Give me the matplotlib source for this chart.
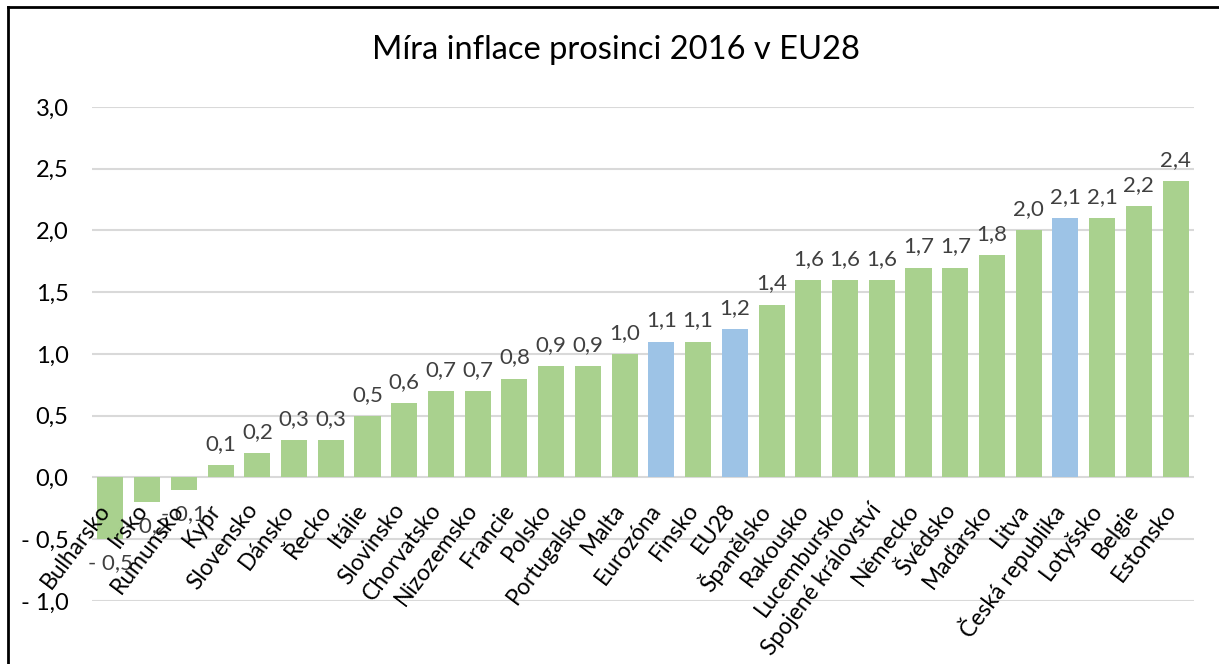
import matplotlib
matplotlib.use("Agg")
import matplotlib.pyplot as plt
from matplotlib.lines import Line2D

plt.rcParams['font.family'] = ['Lato', 'DejaVu Sans']

# data
countries = ['Bulharsko', 'Irsko', 'Rumunsko', 'Kypr', 'Slovensko', 'Dánsko', 'Řecko',
             'Itálie', 'Slovinsko', 'Chorvatsko', 'Nizozemsko', 'Francie', 'Polsko',
             'Portugalsko', 'Malta', 'Eurozóna', 'Finsko', 'EU28', 'Španělsko',
             'Rakousko', 'Lucembursko', 'Spojené království', 'Německo', 'Švédsko',
             'Maďarsko', 'Litva', 'Česká republika', 'Lotyšsko', 'Belgie', 'Estonsko']
inflation = [-0.5, -0.2, -0.1, 0.1, 0.2, 0.3, 0.3, 0.5, 0.6, 0.7, 0.7, 0.8, 0.9,
             0.9, 1.0, 1.1, 1.1, 1.2, 1.4, 1.6, 1.6, 1.6, 1.7, 1.7, 1.8, 2.0, 2.1,
             2.1, 2.2, 2.4]
highlight = ['Eurozóna', 'EU28', 'Česká republika']
y_ticks = [-1.0, -0.5, 0.0, 0.5, 1.0, 1.5, 2.0, 2.5, 3.0]

GREEN = '#A9D18E'
BLUE = '#9DC3E6'


def fmt(v):
    s = f"{abs(v):.1f}".replace('.', ',')
    return f"- {s}" if v < 0 else s


fig = plt.figure(figsize=(12.19, 6.64), dpi=100)
ax = fig.add_axes([0.0755, 0.0949, 0.904, 0.744])

x = list(range(len(countries)))
colors = [BLUE if c in highlight else GREEN for c in countries]
ax.bar(x, inflation, width=0.71, color=colors, zorder=2)

ax.set_xlim(-0.5, len(countries) - 0.5)
ax.set_ylim(-1.0, 3.0)
ax.set_yticks(y_ticks)
ax.set_yticklabels([fmt(v) for v in y_ticks], fontsize=17, color='#000000')
ax.tick_params(axis='y', length=0, pad=17)
ax.set_xticks([])
ax.grid(axis='y', color='#D9D9D9', linewidth=1.5, zorder=0)
for s in ax.spines.values():
    s.set_visible(False)

# value labels
for xi, v in zip(x, inflation):
    if v >= 0:
        ax.annotate(fmt(v), (xi, v), xytext=(0, 8), textcoords='offset points',
                    ha='center', va='bottom', fontsize=16, color='#404040')
    else:
        ax.annotate(fmt(v), (xi, v), xytext=(0, -10), textcoords='offset points',
                    ha='center', va='top', fontsize=16, color='#404040')

# category labels, rotated, hanging from the zero line
for xi, name in zip(x, countries):
    ax.annotate(name, (xi, 0), xytext=(3, -16), textcoords='offset points',
                ha='right', va='top', rotation=53, fontsize=16.5, color='#000000')

fig.text(0.505, 0.925, 'Míra inflace prosinci 2016 v EU28', ha='center', va='center',
         fontsize=23.5, color='#000000')

# chart frame (left and top edges visible)
fig.add_artist(Line2D([0.0068, 0.0068], [0.0, 0.9895], transform=fig.transFigure,
                      color='black', linewidth=2))
fig.add_artist(Line2D([0.0068, 1.0], [0.9895, 0.9895], transform=fig.transFigure,
                      color='black', linewidth=2))

fig.savefig('out.png', dpi=100, facecolor='white')
